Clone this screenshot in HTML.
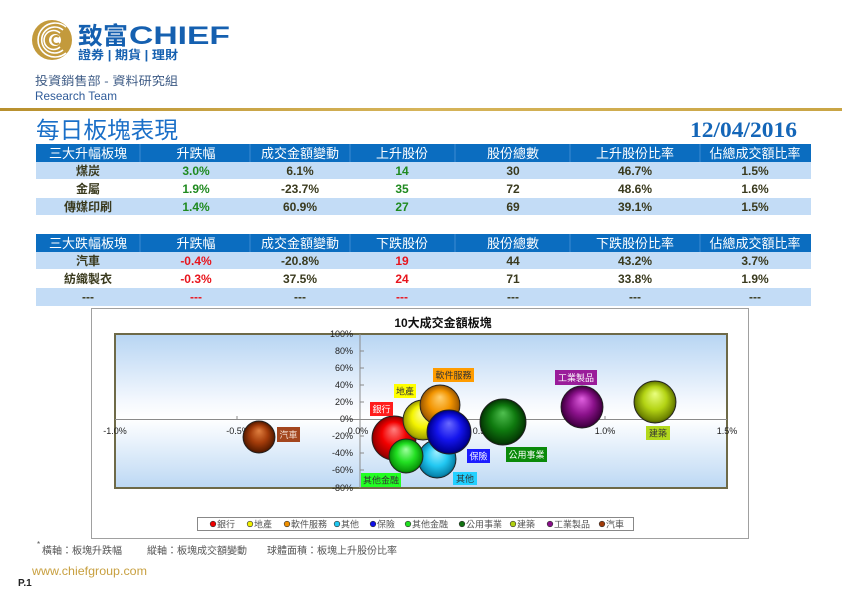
<!DOCTYPE html>
<html><head><meta charset="utf-8"><style>
html,body{margin:0;padding:0;background:#fff;}
body{width:842px;height:595px;overflow:hidden;}
svg{display:block;}
text{font-family:"Liberation Sans","Noto Sans CJK TC",sans-serif;}
</style></head><body>
<svg width="842" height="595" viewBox="0 0 842 595" xmlns="http://www.w3.org/2000/svg">
<defs>
<linearGradient id="gold" x1="0" x2="1" y1="0" y2="0"><stop offset="0" stop-color="#b8902e"/><stop offset="0.5" stop-color="#d6b45a"/><stop offset="1" stop-color="#c9a545"/></linearGradient>
<linearGradient id="plotbg" x1="0" x2="0" y1="0" y2="1"><stop offset="0" stop-color="#b7d5f3"/><stop offset="0.45" stop-color="#f6f9fe"/><stop offset="0.55" stop-color="#ffffff"/><stop offset="1" stop-color="#bcd8f4"/></linearGradient>
<radialGradient id="gRed" cx="0.5" cy="0.5" r="0.5" fx="0.5" fy="0.3"><stop offset="0" stop-color="#ff8080"/><stop offset="0.55" stop-color="#f20000"/><stop offset="0.92" stop-color="#a00000"/><stop offset="1" stop-color="#700000"/></radialGradient>
<radialGradient id="gYel" cx="0.5" cy="0.5" r="0.5" fx="0.5" fy="0.3"><stop offset="0" stop-color="#ffffb0"/><stop offset="0.55" stop-color="#f4f400"/><stop offset="0.92" stop-color="#a8a800"/><stop offset="1" stop-color="#707000"/></radialGradient>
<radialGradient id="gOra" cx="0.5" cy="0.5" r="0.5" fx="0.5" fy="0.3"><stop offset="0" stop-color="#ffd070"/><stop offset="0.55" stop-color="#f29400"/><stop offset="0.92" stop-color="#a86000"/><stop offset="1" stop-color="#704000"/></radialGradient>
<radialGradient id="gCya" cx="0.5" cy="0.5" r="0.5" fx="0.5" fy="0.3"><stop offset="0" stop-color="#a0f0ff"/><stop offset="0.55" stop-color="#22c8f2"/><stop offset="0.92" stop-color="#0888b0"/><stop offset="1" stop-color="#005878"/></radialGradient>
<radialGradient id="gBlu" cx="0.5" cy="0.5" r="0.5" fx="0.5" fy="0.3"><stop offset="0" stop-color="#6a6aff"/><stop offset="0.55" stop-color="#1414ec"/><stop offset="0.92" stop-color="#00009a"/><stop offset="1" stop-color="#000060"/></radialGradient>
<radialGradient id="gLgr" cx="0.5" cy="0.5" r="0.5" fx="0.5" fy="0.3"><stop offset="0" stop-color="#a0ffa0"/><stop offset="0.55" stop-color="#22e022"/><stop offset="0.92" stop-color="#0a9a0a"/><stop offset="1" stop-color="#006000"/></radialGradient>
<radialGradient id="gDgr" cx="0.5" cy="0.5" r="0.5" fx="0.5" fy="0.3"><stop offset="0" stop-color="#50c050"/><stop offset="0.55" stop-color="#0f7a0f"/><stop offset="0.92" stop-color="#054005"/><stop offset="1" stop-color="#022802"/></radialGradient>
<radialGradient id="gYgr" cx="0.5" cy="0.5" r="0.5" fx="0.5" fy="0.3"><stop offset="0" stop-color="#eaff80"/><stop offset="0.55" stop-color="#b4d414"/><stop offset="0.92" stop-color="#6e8400"/><stop offset="1" stop-color="#465400"/></radialGradient>
<radialGradient id="gPur" cx="0.5" cy="0.5" r="0.5" fx="0.5" fy="0.3"><stop offset="0" stop-color="#e060e0"/><stop offset="0.55" stop-color="#8c128c"/><stop offset="0.92" stop-color="#4a004a"/><stop offset="1" stop-color="#300030"/></radialGradient>
<radialGradient id="gBro" cx="0.5" cy="0.5" r="0.5" fx="0.5" fy="0.3"><stop offset="0" stop-color="#e08040"/><stop offset="0.55" stop-color="#a43c0a"/><stop offset="0.92" stop-color="#5e1e00"/><stop offset="1" stop-color="#401200"/></radialGradient>
</defs>

<!-- Logo -->
<circle cx="52" cy="40" r="20" fill="#c39a3c"/>
<g fill="none" stroke="#fff" stroke-width="1.6">
<path d="M 66 27 A 17 17 0 1 0 66 53"/>
<path d="M 63 30 A 13 13 0 1 0 63 50"/>
<path d="M 60 33 A 9.5 9.5 0 1 0 60 47"/>
</g>
<circle cx="55" cy="40" r="6" fill="#fff"/>
<path d="M 59 37 A 4 4 0 1 0 59 43" fill="none" stroke="#c39a3c" stroke-width="2"/>
<text x="78" y="44" font-size="24" font-weight="bold" fill="#1560b0" textLength="50" lengthAdjust="spacingAndGlyphs">致富</text>
<text x="129" y="44" font-size="25" font-weight="bold" fill="#1560b0" textLength="101" lengthAdjust="spacingAndGlyphs">CHIEF</text>
<text x="78" y="59" font-size="12" font-weight="bold" fill="#1560b0" textLength="100" lengthAdjust="spacingAndGlyphs">證券 | 期貨 | 理財</text>
<text x="35" y="85" font-size="12" fill="#3f5c86" textLength="143" lengthAdjust="spacingAndGlyphs">投資銷售部 - 資料研究組</text>
<text x="35" y="100" font-size="12" fill="#2f5b99" textLength="82" lengthAdjust="spacingAndGlyphs">Research Team</text>
<rect x="0" y="108" width="842" height="3" fill="url(#gold)"/>

<!-- Title -->
<text x="36" y="138" font-size="23" fill="#1a6fc8" textLength="142" lengthAdjust="spacingAndGlyphs">每日板塊表現</text>
<text x="690" y="137" font-size="22" font-weight="bold" fill="#1466b8" font-family="Liberation Serif, serif" style="font-family:'Liberation Serif',serif" textLength="107" lengthAdjust="spacingAndGlyphs">12/04/2016</text>

<!-- Table 1 -->
<rect x="36" y="144" width="775" height="18" fill="#0b6dc0"/>
<rect x="36" y="162" width="775" height="17" fill="#c3dcf6"/>
<rect x="36" y="198" width="775" height="17" fill="#c3dcf6"/>
<g stroke="#3d8ad2" stroke-width="1">
<line x1="140" y1="144" x2="140" y2="162"/><line x1="250" y1="144" x2="250" y2="162"/><line x1="350" y1="144" x2="350" y2="162"/><line x1="455" y1="144" x2="455" y2="162"/><line x1="570" y1="144" x2="570" y2="162"/><line x1="700" y1="144" x2="700" y2="162"/>
</g>
<g font-size="13" fill="#fff" text-anchor="middle">
<text x="88" y="158">三大升幅板塊</text><text x="196" y="158">升跌幅</text><text x="300" y="158">成交金額變動</text><text x="402" y="158">上升股份</text><text x="513" y="158">股份總數</text><text x="635" y="158">上升股份比率</text><text x="755" y="158">佔總成交額比率</text>
</g>
<g font-size="12" font-weight="bold" fill="#3a3a1e" text-anchor="middle">
<text x="88" y="175">煤炭</text><text x="300" y="175">6.1%</text><text x="513" y="175">30</text><text x="635" y="175">46.7%</text><text x="755" y="175">1.5%</text>
<text x="88" y="193">金屬</text><text x="300" y="193">-23.7%</text><text x="513" y="193">72</text><text x="635" y="193">48.6%</text><text x="755" y="193">1.6%</text>
<text x="88" y="211">傳媒印刷</text><text x="300" y="211">60.9%</text><text x="513" y="211">69</text><text x="635" y="211">39.1%</text><text x="755" y="211">1.5%</text>
</g>
<g font-size="12" font-weight="bold" fill="#1f8a1f" text-anchor="middle">
<text x="196" y="175">3.0%</text><text x="402" y="175">14</text>
<text x="196" y="193">1.9%</text><text x="402" y="193">35</text>
<text x="196" y="211">1.4%</text><text x="402" y="211">27</text>
</g>

<!-- Table 2 -->
<rect x="36" y="234" width="775" height="18" fill="#0b6dc0"/>
<rect x="36" y="252" width="775" height="17" fill="#c3dcf6"/>
<rect x="36" y="288" width="775" height="18" fill="#c3dcf6"/>
<g stroke="#3d8ad2" stroke-width="1">
<line x1="140" y1="234" x2="140" y2="252"/><line x1="250" y1="234" x2="250" y2="252"/><line x1="350" y1="234" x2="350" y2="252"/><line x1="455" y1="234" x2="455" y2="252"/><line x1="570" y1="234" x2="570" y2="252"/><line x1="700" y1="234" x2="700" y2="252"/>
</g>
<g font-size="13" fill="#fff" text-anchor="middle">
<text x="88" y="248">三大跌幅板塊</text><text x="196" y="248">升跌幅</text><text x="300" y="248">成交金額變動</text><text x="402" y="248">下跌股份</text><text x="513" y="248">股份總數</text><text x="635" y="248">下跌股份比率</text><text x="755" y="248">佔總成交額比率</text>
</g>
<g font-size="12" font-weight="bold" fill="#3a3a1e" text-anchor="middle">
<text x="88" y="265">汽車</text><text x="300" y="265">-20.8%</text><text x="513" y="265">44</text><text x="635" y="265">43.2%</text><text x="755" y="265">3.7%</text>
<text x="88" y="283">紡織製衣</text><text x="300" y="283">37.5%</text><text x="513" y="283">71</text><text x="635" y="283">33.8%</text><text x="755" y="283">1.9%</text>
<text x="88" y="301">---</text><text x="300" y="301">---</text><text x="513" y="301">---</text><text x="635" y="301">---</text><text x="755" y="301">---</text>
</g>
<g font-size="12" font-weight="bold" fill="#e8141c" text-anchor="middle">
<text x="196" y="265">-0.4%</text><text x="402" y="265">19</text>
<text x="196" y="283">-0.3%</text><text x="402" y="283">24</text>
<text x="196" y="301">---</text><text x="402" y="301">---</text>
</g>

<!-- Chart -->
<rect x="91.5" y="308.5" width="657" height="230" fill="#fff" stroke="#a0a0a0" stroke-width="1"/>
<text x="443" y="327" font-size="12" font-weight="bold" fill="#111" text-anchor="middle">10大成交金額板塊</text>
<rect x="115" y="334" width="612" height="154" fill="url(#plotbg)" stroke="#6e6a48" stroke-width="2"/>
<g stroke="#8a8a8a" stroke-width="1">
<line x1="360" y1="334" x2="360" y2="488"/>
<line x1="115" y1="419.5" x2="727" y2="419.5"/>
<line x1="237" y1="416" x2="237" y2="419"/><line x1="482" y1="416" x2="482" y2="419"/><line x1="605" y1="416" x2="605" y2="419"/>
<line x1="360" y1="351" x2="364" y2="351"/><line x1="360" y1="368" x2="364" y2="368"/><line x1="360" y1="385" x2="364" y2="385"/><line x1="360" y1="402" x2="364" y2="402"/><line x1="360" y1="436" x2="364" y2="436"/><line x1="360" y1="453" x2="364" y2="453"/><line x1="360" y1="470" x2="364" y2="470"/>
</g>
<g font-size="9" fill="#222" text-anchor="end">
<text x="353" y="337">100%</text><text x="353" y="354">80%</text><text x="353" y="371">60%</text><text x="353" y="388">40%</text><text x="353" y="405">20%</text><text x="353" y="422">0%</text><text x="353" y="439">-20%</text><text x="353" y="456">-40%</text><text x="353" y="473">-60%</text><text x="353" y="491">-80%</text>
</g>
<g font-size="9" fill="#222" text-anchor="middle">
<text x="115" y="434">-1.0%</text><text x="238" y="434">-0.5%</text><text x="358" y="434">0.0%</text><text x="483" y="434">0.5%</text><text x="605" y="434">1.0%</text><text x="727" y="434">1.5%</text>
</g>

<g stroke="#222" stroke-width="0.9">
<circle cx="259" cy="437" r="16" fill="url(#gBro)"/>
<circle cx="394" cy="438" r="22" fill="url(#gRed)"/>
<circle cx="423" cy="420" r="20" fill="url(#gYel)"/>
<circle cx="440" cy="405" r="20" fill="url(#gOra)"/>
<circle cx="437" cy="459" r="19" fill="url(#gCya)"/>
<circle cx="449" cy="432" r="22" fill="url(#gBlu)"/>
<circle cx="406" cy="456" r="17" fill="url(#gLgr)"/>
<circle cx="503" cy="422" r="23" fill="url(#gDgr)"/>
<circle cx="655" cy="402" r="21" fill="url(#gYgr)"/>
<circle cx="582" cy="407" r="21" fill="url(#gPur)"/>
</g>

<g font-size="9" text-anchor="middle">
<rect x="277" y="427" width="23" height="15" fill="#a3461e"/><text x="288.5" y="438" fill="#f3dccf">汽車</text>
<rect x="370" y="402" width="23" height="14" fill="#ff1c1c"/><text x="381.5" y="412.5" fill="#fff">銀行</text>
<rect x="394" y="384" width="22" height="14" fill="#ffff00"/><text x="405" y="394.5" fill="#333">地產</text>
<rect x="433" y="368" width="41" height="14" fill="#ff9c00"/><text x="453.5" y="378.5" fill="#333">軟件服務</text>
<rect x="467" y="449" width="23" height="14" fill="#1c1cff"/><text x="478.5" y="459.5" fill="#fff">保險</text>
<rect x="453" y="472" width="24" height="13" fill="#22d0ff"/><text x="465" y="482" fill="#333">其他</text>
<rect x="361" y="473" width="40" height="14" fill="#22ff22"/><text x="381" y="483.5" fill="#333">其他金融</text>
<rect x="506" y="447" width="41" height="15" fill="#0a8a0a"/><text x="526.5" y="458" fill="#fff">公用事業</text>
<rect x="555" y="370" width="42" height="15" fill="#9a1c9a"/><text x="576" y="381" fill="#fff">工業製品</text>
<rect x="646" y="426" width="24" height="14" fill="#b2d81c"/><text x="658" y="436.5" fill="#333">建築</text>
</g>

<!-- Legend -->
<rect x="197.5" y="517.5" width="436" height="13" fill="#fff" stroke="#888" stroke-width="1"/>
<g stroke="#333" stroke-width="0.6">
<circle cx="213" cy="524" r="2.8" fill="#f00000"/>
<circle cx="250" cy="524" r="2.8" fill="#f0f000"/>
<circle cx="287" cy="524" r="2.8" fill="#f09000"/>
<circle cx="337" cy="524" r="2.8" fill="#20c8f0"/>
<circle cx="373" cy="524" r="2.8" fill="#1010e8"/>
<circle cx="408" cy="524" r="2.8" fill="#20e020"/>
<circle cx="462" cy="524" r="2.8" fill="#107010"/>
<circle cx="513" cy="524" r="2.8" fill="#b0d010"/>
<circle cx="550" cy="524" r="2.8" fill="#8a108a"/>
<circle cx="602" cy="524" r="2.8" fill="#a03a08"/>
</g>
<g font-size="9" fill="#555">
<text x="217" y="527.5">銀行</text>
<text x="254" y="527.5">地產</text>
<text x="291" y="527.5">軟件服務</text>
<text x="341" y="527.5">其他</text>
<text x="377" y="527.5">保險</text>
<text x="412" y="527.5">其他金融</text>
<text x="466" y="527.5">公用事業</text>
<text x="517" y="527.5">建築</text>
<text x="554" y="527.5">工業製品</text>
<text x="606" y="527.5">汽車</text>
</g>

<!-- Footer -->
<g font-size="10" fill="#555">
<text x="37" y="547" font-size="8">*</text>
<text x="42" y="554">橫軸：板塊升跌幅</text>
<text x="147" y="554">縱軸：板塊成交額變動</text>
<text x="267" y="554">球體面積：板塊上升股份比率</text>
</g>
<text x="32" y="575" font-size="12" fill="#c8a040" textLength="115" lengthAdjust="spacingAndGlyphs">www.chiefgroup.com</text>
<text x="18" y="586" font-size="10" font-weight="bold" fill="#222">P.1</text>
</svg>
</body></html>
